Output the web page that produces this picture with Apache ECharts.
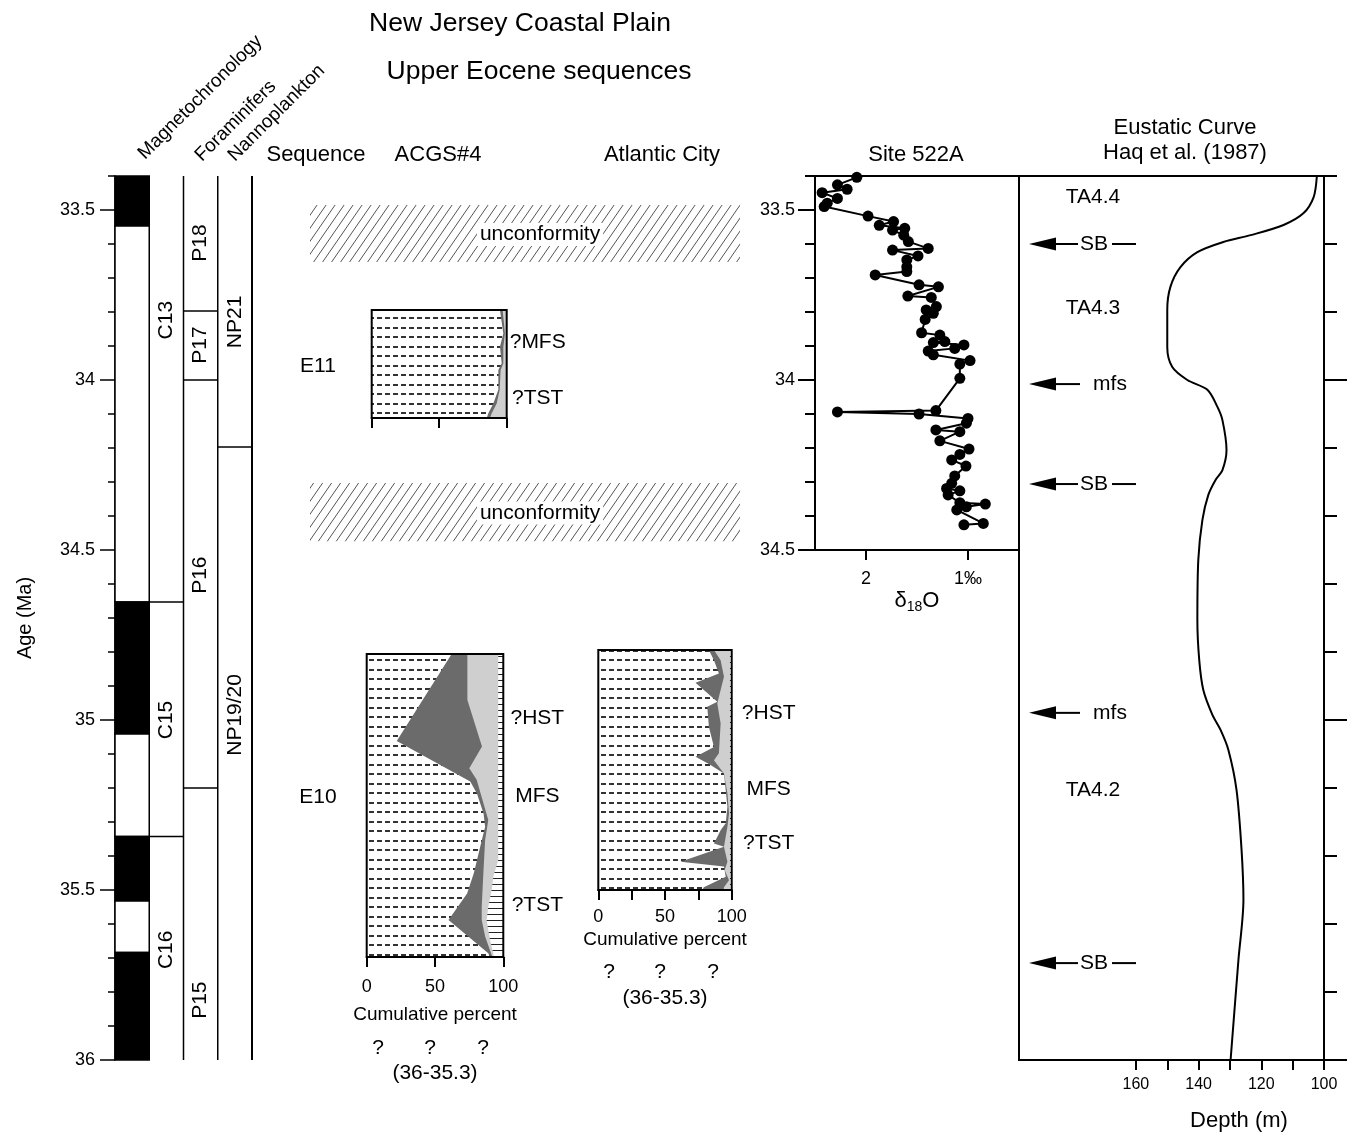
<!DOCTYPE html>
<html><head><meta charset="utf-8">
<script src="https://cdn.jsdelivr.net/npm/echarts@6/dist/echarts.min.js"></script>
<style>html,body{margin:0;padding:0;background:#fff}#c{width:1357px;height:1137px}</style>
</head><body><div id="c"></div>
<script>
// ---------------- DATA ----------------
const ageMajorTicks = [33.5, 34, 34.5, 35, 35.5, 36];
const siteMajorTicks = [33.5, 34, 34.5];
const eustLongTicks = [34, 35, 36];
const depthTicks = [100, 110, 120, 130, 140, 150, 160];
const depthLabels = [100, 120, 140, 160];
const pctTicks3 = [0, 50, 100];
const pctTicks5 = [0, 25, 50, 75, 100];
const d18oTicks = [1, 2];

const magnetoTop    = [33.4, 33.547, 34.653, 35.041, 35.343, 35.532, 35.684];
const magnetoBottom = [33.547, 34.653, 35.041, 35.343, 35.532, 35.684, 36.0];
const magnetoNormal = [1, 0, 1, 0, 1, 0, 1];

const chronNames = ['C13', 'C15', 'C16'];
const chronTop = [33.4, 34.653, 35.343];
const chronBottom = [34.653, 35.343, 36.0];
const chronLabelAge = [33.824, 35.0, 35.676];

const foramNames = ['P18', 'P17', 'P16', 'P15'];
const foramTop = [33.4, 33.797, 34.0, 35.2];
const foramBottom = [33.797, 34.0, 35.2, 36.0];
const foramLabelAge = [33.597, 33.897, 34.574, 35.824];

const nannoNames = ['NP21', 'NP19/20'];
const nannoTop = [33.4, 34.197];
const nannoBottom = [34.197, 36.0];
const nannoLabelAge = [33.829, 34.985];

const unconfTop = [33.485, 34.303];
const unconfBottom = [33.653, 34.474];
const sequenceNames = ['E11', 'E10'];
const sequenceAge = [33.959, 35.226];

// ACGS#4, E11 section (cumulative percent)
const e11Age   = [33.794, 33.863, 33.902, 33.951, 33.971, 34.029, 34.069, 34.098, 34.112];
const e11Dark  = [95.0, 97.5, 95.0, 96.3, 93.8, 93.8, 90.1, 86.4, 85.2];
const e11Light = [97.0, 98.7, 97.5, 97.5, 95.5, 94.8, 92.6, 88.9, 87.6];
const e11TractNames = ['?MFS', '?TST'];
const e11TractAge = [33.888, 34.053];

// ACGS#4, E10 section
const e10AgeA  = [34.806, 35.062, 35.181, 35.216, 35.274, 35.314, 35.353, 35.451, 35.51, 35.588, 35.686, 35.697];
const e10Dark  = [62.2, 22.0, 75.8, 80.7, 85.5, 86.7, 84.3, 78.4, 73.5, 59.9, 89.0, 90.2];
const e10AgeB  = [34.806, 34.941, 35.078, 35.142, 35.176, 35.294, 35.353, 35.451, 35.549, 35.588, 35.637, 35.697];
const e10Light = [73.7, 73.7, 84.4, 75.1, 80.5, 89.0, 86.7, 85.4, 84.2, 84.2, 86.7, 92.0];
const e10AgeC  = [34.806, 35.412, 35.461, 35.5, 35.549, 35.588, 35.647, 35.686, 35.697];
const e10Shell = [96.3, 96.3, 92.7, 91.5, 89.0, 87.8, 90.3, 92.7, 93.0];
const e10TractNames = ['?HST', 'MFS', '?TST'];
const e10TractAge = [34.994, 35.224, 35.544];

// Atlantic City, E10 section
const acAgeA  = [34.794, 34.824, 34.863, 34.89, 34.946, 34.961, 35.02, 35.079, 35.108, 35.129, 35.157, 35.206, 35.255, 35.304, 35.324, 35.363, 35.373, 35.417, 35.431, 35.461, 35.492, 35.5];
const acDark  = [82.9, 86.7, 90.4, 72.9, 89.2, 81.7, 82.9, 86.7, 72.9, 82.9, 94.2, 95.5, 96.8, 95.5, 91.7, 86.7, 94.2, 61.6, 94.2, 95.5, 79.1, 78.0];
const acAgeB  = [34.794, 34.824, 34.873, 34.951, 35.01, 35.098, 35.118, 35.157, 35.216, 35.275, 35.314, 35.373, 35.417, 35.441, 35.471, 35.492, 35.5];
const acLight = [86.7, 91.7, 94.2, 89.2, 91.7, 90.4, 86.7, 94.2, 96.8, 98.0, 96.8, 94.2, 96.8, 94.7, 98.0, 94.2, 94.0];
const acAgeC  = [34.794, 35.5];
const acShell = [98.7, 98.7];
const acTractNames = ['?HST', 'MFS', '?TST'];
const acTractAge = [34.979, 35.203, 35.362];

// Site 522A oxygen isotopes
const siteAge = [33.404, 33.426, 33.439, 33.449, 33.466, 33.48, 33.49, 33.518, 33.534, 33.545, 33.554, 33.559, 33.574, 33.593, 33.613, 33.618, 33.635, 33.647, 33.667, 33.681, 33.691, 33.72, 33.726, 33.753, 33.757, 33.784, 33.794, 33.804, 33.822, 33.861, 33.868, 33.887, 33.89, 33.897, 33.907, 33.915, 33.926, 33.943, 33.953, 33.995, 34.09, 34.094, 34.1, 34.113, 34.127, 34.147, 34.152, 34.179, 34.203, 34.219, 34.235, 34.253, 34.282, 34.304, 34.319, 34.326, 34.338, 34.361, 34.365, 34.373, 34.382, 34.422, 34.426];
const siteD18O = [2.09, 2.28, 2.185, 2.43, 2.28, 2.38, 2.41, 1.98, 1.73, 1.87, 1.62, 1.74, 1.63, 1.585, 1.39, 1.74, 1.49, 1.60, 1.60, 1.60, 1.91, 1.48, 1.29, 1.59, 1.36, 1.31, 1.41, 1.34, 1.42, 1.455, 1.276, 1.227, 1.34, 1.04, 1.13, 1.39, 1.34, 0.98, 1.08, 1.08, 1.315, 2.28, 1.48, 1.0, 1.016, 1.315, 1.08, 1.276, 0.99, 1.08, 1.16, 1.02, 1.13, 1.16, 1.21, 1.08, 1.195, 1.08, 0.83, 1.016, 1.11, 0.85, 1.04];

// Eustatic curve (Haq et al. 1987)
const eustAge   = [33.403, 33.462, 33.509, 33.544, 33.574, 33.594, 33.624, 33.668, 33.726, 33.794, 33.903, 33.962, 34.0, 34.029, 34.079, 34.118, 34.206, 34.265, 34.294, 34.338, 34.412, 34.529, 34.706, 34.824, 34.912, 34.985, 35.029, 35.088, 35.206, 35.382, 35.529, 35.706, 36.0];
const eustDepth = [102.3, 103.3, 106.5, 112.9, 123.4, 132.1, 140.4, 145.8, 149.0, 150.0, 150.0, 148.4, 143.6, 137.2, 134.0, 132.4, 131.1, 132.4, 134.6, 136.9, 138.8, 140.1, 140.4, 139.8, 138.5, 135.6, 133.0, 130.5, 127.9, 126.3, 125.7, 127.3, 129.8];
const eustMarkAge = [33.6, 34.012, 34.306, 34.979, 35.715];
const eustMarkName = ['SB', 'mfs', 'SB', 'mfs', 'SB'];
const tractSeqNames = ['TA4.4', 'TA4.3', 'TA4.2'];
const tractSeqAge = [33.462, 33.788, 35.206];

// ---------------- RENDER ----------------
const FF = "'Liberation Sans', Arial, Helvetica, sans-serif";
function mkCanvas(w, h, draw) { const c = document.createElement('canvas'); c.width = w; c.height = h; draw(c.getContext('2d')); return c; }
const dashFill = { image: mkCanvas(8, 19, g => { g.fillStyle = '#fff'; g.fillRect(0, 0, 8, 19); g.fillStyle = '#333'; g.fillRect(1, 4, 5, 2); g.fillRect(1, 13, 5, 2); }), repeat: 'repeat' };
const hatchFill = { image: mkCanvas(9, 13, g => { g.strokeStyle = '#555'; g.lineWidth = 1; g.beginPath(); for (const k of [-1, 0, 1]) { g.moveTo(k * 9, 13); g.lineTo(k * 9 + 9, 0); } g.stroke(); }), repeat: 'repeat' };
const ladderFill = { image: mkCanvas(6, 6, g => { g.fillStyle = '#fff'; g.fillRect(0, 0, 6, 6); g.fillStyle = '#222'; g.fillRect(0, 2, 6, 1); }), repeat: 'repeat' };

const minorMain = []; for (let v = 334; v <= 360; v++) minorMain.push(v / 10);
const minorSite = []; for (let v = 334; v <= 345; v++) minorSite.push(v / 10);
const eustShort = []; for (let v = 167; v <= 180; v++) eustShort.push(v / 5);

const BLK = '#000';
function txt(text, x, y, size, extra) {
  return Object.assign({ type: 'text', x, y, z: 50, silent: true,
    style: { text, fill: BLK, fontSize: size, fontFamily: FF, align: 'center', verticalAlign: 'middle' } }, extra || {});
}

const grids = [
  { left: 115, top: 176, width: 137, height: 884 },      // 0 columns
  { left: 310, top: 176, width: 430, height: 884 },      // 1 sequences
  { left: 371.7, top: 310, width: 135, height: 108 },    // 2 E11 ACGS
  { left: 366.7, top: 654, width: 136.6, height: 303 },  // 3 E10 ACGS
  { left: 598.3, top: 650, width: 133.4, height: 240 },  // 4 Atlantic City
  { left: 815, top: 176, width: 204, height: 374, show: true, borderColor: BLK, borderWidth: 2 }, // 5 Site 522A
  { left: 1019, top: 176, width: 305, height: 884, show: true, borderColor: BLK, borderWidth: 2 } // 6 eustatic
].map(g => Object.assign({ containLabel: false, outerBoundsMode: 'none' }, g));

const hidden = (gi, min, max, inv) => ({ gridIndex: gi, type: 'value', min, max, inverse: !!inv, show: false, splitLine: { show: false } });
const lineSty = w => ({ show: true, lineStyle: { color: BLK, width: w } });

function pctAxis(gi, ticks, labels, margin, nameGap) {
  return { gridIndex: gi, type: 'value', min: 0, max: 100, position: 'bottom', splitLine: { show: false },
    axisLine: lineSty(2), axisTick: { show: true, length: 10, customValues: ticks, lineStyle: { color: BLK, width: 2 } },
    axisLabel: labels ? { show: true, customValues: labels, color: BLK, fontSize: 18, fontFamily: FF, margin } : { show: false },
    name: labels ? 'Cumulative percent' : '', nameLocation: 'middle', nameGap, nameTextStyle: { color: BLK, fontSize: 19, fontFamily: FF } };
}

const xAxis = [
  hidden(0, 0, 4),
  hidden(1, 0, 1),
  pctAxis(2, pctTicks3, null, 0, 0),
  pctAxis(3, pctTicks3, pctTicks3, 21, 48),
  pctAxis(4, pctTicks5, pctTicks3, 18, 40),
  { gridIndex: 5, type: 'value', min: 0.5, max: 2.5, inverse: true, splitLine: { show: false }, axisLine: lineSty(2),
    axisTick: { show: true, length: 10, customValues: d18oTicks, lineStyle: { color: BLK, width: 2 } },
    axisLabel: { customValues: d18oTicks, color: BLK, fontSize: 18, fontFamily: FF, margin: 20, formatter: v => v === 1 ? '1‰' : String(v) },
    name: '{a|δ}{b|18}{a|O}', nameLocation: 'middle', nameGap: 38,
    nameTextStyle: { color: BLK, fontFamily: FF, rich: { a: { fontSize: 22, lineHeight: 26, fontFamily: FF, color: BLK }, b: { fontSize: 14, lineHeight: 14, verticalAlign: 'bottom', fontFamily: FF, color: BLK } } } },
  { gridIndex: 6, type: 'value', min: 100, max: 197.3, inverse: true, splitLine: { show: false }, axisLine: lineSty(2),
    axisTick: { show: true, length: 10, customValues: depthTicks, lineStyle: { color: BLK, width: 2 } },
    axisLabel: { customValues: depthLabels, color: BLK, fontSize: 16, fontFamily: FF, margin: 17 } }
];

const yAxis = [
  { gridIndex: 0, type: 'value', min: 33.4, max: 36, inverse: true, position: 'left', splitLine: { show: false },
    axisLine: lineSty(1.5), axisTick: { show: true, length: 15, customValues: ageMajorTicks, lineStyle: { color: BLK, width: 1.5 } },
    axisLabel: { customValues: ageMajorTicks, color: BLK, fontSize: 18, fontFamily: FF, margin: 20 },
    name: 'Age (Ma)', nameLocation: 'middle', nameGap: 80, nameTextStyle: { color: BLK, fontSize: 20, fontFamily: FF } },
  { gridIndex: 0, type: 'value', min: 33.4, max: 36, inverse: true, position: 'left', splitLine: { show: false },
    axisLine: { show: false }, axisTick: { show: true, length: 7, customValues: minorMain, lineStyle: { color: BLK, width: 1.5 } }, axisLabel: { show: false } },
  hidden(1, 33.4, 36, true),
  hidden(2, 33.794, 34.112, true),
  hidden(3, 34.806, 35.697, true),
  hidden(4, 34.794, 35.5, true),
  { gridIndex: 5, type: 'value', min: 33.4, max: 34.5, inverse: true, position: 'left', splitLine: { show: false },
    axisLine: lineSty(2), axisTick: { show: true, length: 17, customValues: siteMajorTicks, lineStyle: { color: BLK, width: 2 } },
    axisLabel: { customValues: siteMajorTicks, color: BLK, fontSize: 18, fontFamily: FF, margin: 20 } },
  { gridIndex: 5, type: 'value', min: 33.4, max: 34.5, inverse: true, position: 'left', splitLine: { show: false },
    axisLine: { show: false }, axisTick: { show: true, length: 10, customValues: minorSite, lineStyle: { color: BLK, width: 2 } }, axisLabel: { show: false } },
  { gridIndex: 6, type: 'value', min: 33.4, max: 36, inverse: true, position: 'right', splitLine: { show: false },
    axisLine: lineSty(2), axisTick: { show: true, length: 13, customValues: eustShort, lineStyle: { color: BLK, width: 2 } }, axisLabel: { show: false } },
  { gridIndex: 6, type: 'value', min: 33.4, max: 36, inverse: true, position: 'right', splitLine: { show: false },
    axisLine: { show: false }, axisTick: { show: true, length: 23, customValues: eustLongTicks, lineStyle: { color: BLK, width: 2 } }, axisLabel: { show: false } }
];

const series = [];

// magnetochronology blocks
series.push({ type: 'custom', xAxisIndex: 0, yAxisIndex: 0, z: 3, silent: true, clip: false,
  data: magnetoTop.map((t, i) => [0, t, magnetoBottom[i], magnetoNormal[i]]),
  renderItem(params, api) {
    const a = api.coord([0, api.value(1)]), b = api.coord([1, api.value(2)]);
    return { type: 'rect', shape: { x: a[0], y: a[1], width: b[0] - a[0], height: b[1] - a[1] },
      style: { fill: api.value(3) ? BLK : '#fff', stroke: BLK, lineWidth: 1.5 } };
  } });

function zoneSeries(col, tops, bottoms, names, labelAges, leftLine, rightLine) {
  return { type: 'custom', xAxisIndex: 0, yAxisIndex: 0, z: 4, silent: true, clip: false,
    data: tops.map((t, i) => [col, t, bottoms[i], labelAges[i]]),
    renderItem(params, api) {
      const i = params.dataIndex;
      const a = api.coord([col, api.value(1)]), b = api.coord([col + 1, api.value(2)]);
      const ch = [];
      if (leftLine) ch.push({ type: 'line', shape: { x1: a[0], y1: a[1], x2: a[0], y2: b[1] }, style: { stroke: BLK, lineWidth: 1.5 } });
      if (rightLine) ch.push({ type: 'line', shape: { x1: b[0], y1: a[1], x2: b[0], y2: b[1] }, style: { stroke: BLK, lineWidth: 2 } });
      if (i < tops.length - 1) ch.push({ type: 'line', shape: { x1: a[0], y1: b[1], x2: b[0], y2: b[1] }, style: { stroke: BLK, lineWidth: 1.5 } });
      const c = api.coord([col + 0.5, api.value(3)]);
      ch.push({ type: 'text', x: c[0], y: c[1], rotation: Math.PI / 2,
        style: { text: names[i], fill: BLK, fontSize: 21, fontFamily: FF, align: 'center', verticalAlign: 'middle' } });
      return { type: 'group', children: ch };
    } };
}
series.push(zoneSeries(1, chronTop, chronBottom, chronNames, chronLabelAge, false, false));
series.push(zoneSeries(2, foramTop, foramBottom, foramNames, foramLabelAge, true, false));
series.push(zoneSeries(3, nannoTop, nannoBottom, nannoNames, nannoLabelAge, true, true));

// unconformities
series.push({ type: 'custom', xAxisIndex: 1, yAxisIndex: 2, z: 3, silent: true, clip: false,
  data: unconfTop.map((t, i) => [0, t, unconfBottom[i]]),
  renderItem(params, api) {
    const a = api.coord([0, api.value(1)]), b = api.coord([1, api.value(2)]);
    const t = api.coord([0.535, (api.value(1) + api.value(2)) / 2]);
    return { type: 'group', children: [
      { type: 'rect', shape: { x: a[0], y: a[1], width: b[0] - a[0], height: b[1] - a[1] }, style: { fill: hatchFill } },
      { type: 'text', x: t[0], y: t[1] + 1, style: { text: 'unconformity', fill: BLK, fontSize: 21, fontFamily: FF, align: 'center', verticalAlign: 'middle', backgroundColor: '#fff', padding: [1, 3] } }
    ] };
  } });
// sequence names
series.push({ type: 'custom', xAxisIndex: 1, yAxisIndex: 2, z: 3, silent: true, clip: false,
  data: sequenceAge.map(a => [0, a]),
  renderItem(params, api) {
    const p = api.coord([0, api.value(1)]);
    return { type: 'text', x: p[0] + 8, y: p[1], style: { text: sequenceNames[params.dataIndex], fill: BLK, fontSize: 21, fontFamily: FF, align: 'center', verticalAlign: 'middle' } };
  } });

// lithology sections
function fillLayer(xi, ages, vals, fill, z) {
  return { type: 'custom', xAxisIndex: xi, yAxisIndex: xi + 1, z, silent: true, clip: false,
    data: ages.map((a, i) => [vals[i], a]),
    renderItem(params, api) {
      if (params.dataIndex !== 0) return null;
      const pts = ages.map((a, i) => api.coord([vals[i], a]));
      pts.push(api.coord([100, ages[ages.length - 1]]));
      pts.push(api.coord([100, ages[0]]));
      return { type: 'polygon', shape: { points: pts }, style: { fill } };
    } };
}
function frameLayer(xi, age0) {
  return { type: 'custom', xAxisIndex: xi, yAxisIndex: xi + 1, z: 9, silent: true, clip: false,
    data: [[0, age0]],
    renderItem(params) {
      const c = params.coordSys;
      return { type: 'rect', shape: { x: c.x, y: c.y, width: c.width, height: c.height }, style: { fill: 'none', stroke: BLK, lineWidth: 2 } };
    } };
}
function tractLabels(xi, ages, names, dx) {
  return { type: 'custom', xAxisIndex: xi, yAxisIndex: xi + 1, z: 9, silent: true, clip: false,
    data: ages.map(a => [100, a]),
    renderItem(params, api) {
      const p = api.coord([100, api.value(1)]);
      return { type: 'text', x: p[0] + dx, y: p[1], style: { text: names[params.dataIndex], fill: BLK, fontSize: 21, fontFamily: FF, align: 'center', verticalAlign: 'middle' } };
    } };
}
function section(xi, top, bottom, agesA, dark, agesB, light, agesC, shell, tAges, tNames, dx) {
  series.push(fillLayer(xi, [top, bottom], [0, 0], dashFill, 5));
  series.push(fillLayer(xi, agesA, dark, '#6b6b6b', 6));
  series.push(fillLayer(xi, agesB, light, '#cfcfcf', 7));
  if (agesC) series.push(fillLayer(xi, agesC, shell, ladderFill, 8));
  series.push(frameLayer(xi, top));
  series.push(tractLabels(xi, tAges, tNames, dx));
}
section(2, 33.794, 34.112, e11Age, e11Dark, e11Age, e11Light, null, null, e11TractAge, e11TractNames, 31);
section(3, 34.806, 35.697, e10AgeA, e10Dark, e10AgeB, e10Light, e10AgeC, e10Shell, e10TractAge, e10TractNames, 34);
section(4, 34.794, 35.5, acAgeA, acDark, acAgeB, acLight, acAgeC, acShell, acTractAge, acTractNames, 37);

// Site 522A
series.push({ type: 'line', xAxisIndex: 5, yAxisIndex: 6, z: 5, silent: true,
  data: siteAge.map((a, i) => [siteD18O[i], a]),
  symbol: 'circle', symbolSize: 11, itemStyle: { color: BLK }, lineStyle: { color: BLK, width: 2 } });

// Eustatic curve
series.push({ type: 'line', xAxisIndex: 6, yAxisIndex: 8, z: 5, silent: true, smooth: 0.3,
  data: eustAge.map((a, i) => [eustDepth[i], a]), symbol: 'none', lineStyle: { color: BLK, width: 2 } });
series.push({ type: 'custom', xAxisIndex: 6, yAxisIndex: 8, z: 6, silent: true, clip: false,
  data: eustMarkAge.map(a => [197.3, a]),
  renderItem(params, api) {
    const p = api.coord([197.3, api.value(1)]);
    const x0 = p[0], y = p[1];
    const isSB = eustMarkName[params.dataIndex] === 'SB';
    const ch = [
      { type: 'polygon', shape: { points: [[x0 + 10, y], [x0 + 37, y - 6.5], [x0 + 37, y + 6.5]] }, style: { fill: BLK } },
      { type: 'line', shape: { x1: x0 + 36, y1: y, x2: x0 + (isSB ? 59 : 61), y2: y }, style: { stroke: BLK, lineWidth: 2 } },
      { type: 'text', x: x0 + (isSB ? 75 : 91), y: y, style: { text: eustMarkName[params.dataIndex], fill: BLK, fontSize: 21, fontFamily: FF, align: 'center', verticalAlign: 'middle' } }
    ];
    if (isSB) ch.push({ type: 'line', shape: { x1: x0 + 93, y1: y, x2: x0 + 117, y2: y }, style: { stroke: BLK, lineWidth: 2 } });
    return { type: 'group', children: ch };
  } });
series.push({ type: 'custom', xAxisIndex: 6, yAxisIndex: 8, z: 6, silent: true, clip: false,
  data: tractSeqAge.map(a => [197.3, a]),
  renderItem(params, api) {
    const p = api.coord([197.3, api.value(1)]);
    return { type: 'text', x: p[0] + 74, y: p[1], style: { text: tractSeqNames[params.dataIndex], fill: BLK, fontSize: 21, fontFamily: FF, align: 'center', verticalAlign: 'middle' } };
  } });

const graphic = [
  txt('New Jersey Coastal Plain', 520, 24, 26.5),
  txt('Upper Eocene sequences', 539, 72, 26.5),
  txt('Sequence', 316, 155, 22),
  txt('ACGS#4', 438, 155, 22),
  txt('Atlantic City', 662, 155, 22),
  txt('Site 522A', 916, 155, 22),
  txt('Eustatic Curve', 1185, 128, 22),
  txt('Haq et al. (1987)', 1185, 153, 22),
  txt('Depth (m)', 1239, 1121, 22),
  txt('?', 378, 1048, 21), txt('?', 430, 1048, 21), txt('?', 483, 1048, 21),
  txt('(36-35.3)', 435, 1073, 21),
  txt('?', 609, 972, 21), txt('?', 660, 972, 21), txt('?', 713, 972, 21),
  txt('(36-35.3)', 665, 998, 21),
  { type: 'text', x: 148, y: 163, rotation: Math.PI / 4, z: 50, silent: true, style: { text: 'Magnetochronology', fill: BLK, fontSize: 19, fontFamily: FF, align: 'left', verticalAlign: 'bottom' } },
  { type: 'text', x: 205, y: 165, rotation: Math.PI / 4, z: 50, silent: true, style: { text: 'Foraminifers', fill: BLK, fontSize: 19, fontFamily: FF, align: 'left', verticalAlign: 'bottom' } },
  { type: 'text', x: 238, y: 165, rotation: Math.PI / 4, z: 50, silent: true, style: { text: 'Nannoplankton', fill: BLK, fontSize: 19, fontFamily: FF, align: 'left', verticalAlign: 'bottom' } }
];

const chart = echarts.init(document.getElementById('c'), null, { renderer: 'canvas', width: 1357, height: 1137 });
chart.setOption({
  animation: false,
  backgroundColor: '#fff',
  textStyle: { fontFamily: FF, color: BLK },
  grid: grids, xAxis, yAxis, series,
  graphic: { elements: graphic }
});
</script></body></html>
